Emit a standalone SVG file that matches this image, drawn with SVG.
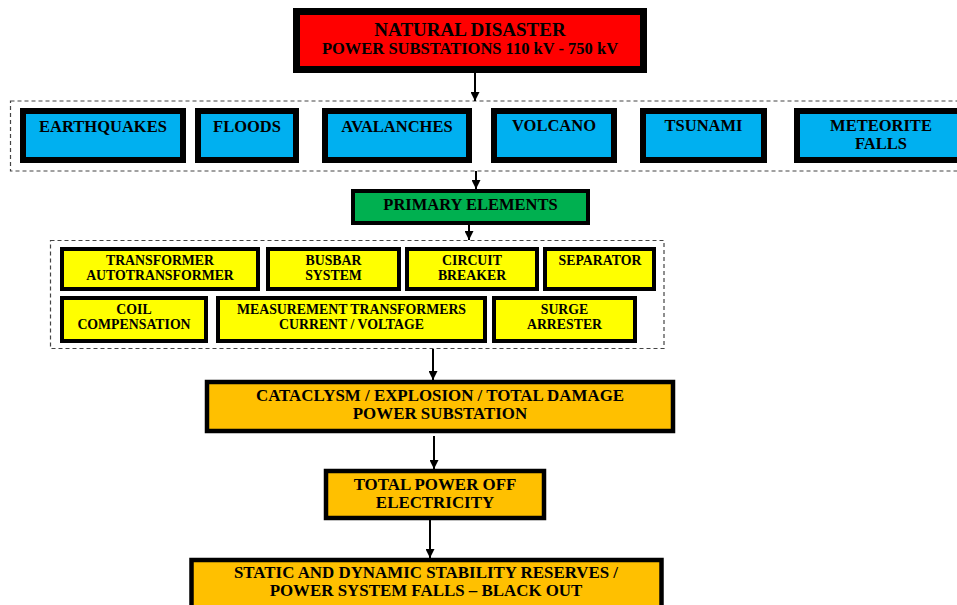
<svg xmlns="http://www.w3.org/2000/svg" width="957" height="605" viewBox="0 0 957 605">
<style>
text{font-family:"Liberation Serif","Times New Roman",serif;font-weight:bold;fill:#000;text-anchor:middle}
.t16{font-size:16.5px}
.t17{font-size:16.9px}
.t13{font-size:13.8px}
.t19{font-size:19px}
.red{fill:#FF0000;stroke:#000;stroke-width:7}
.blue{fill:#00B0F0;stroke:#000;stroke-width:6}
.green{fill:#00B050;stroke:#000;stroke-width:4}
.yel{fill:#FFFF00;stroke:#000;stroke-width:4}
.org{fill:#FFC000;stroke:#000;stroke-width:4.5}
.dash{fill:none;stroke:#444;stroke-width:1.2;stroke-dasharray:4 3}
.conn{stroke:#000;stroke-width:2;fill:none;marker-end:url(#arr)}
</style>
<defs>
<marker id="arr" viewBox="0 0 10 10" refX="10" refY="5" markerWidth="4.5" markerHeight="4.5" markerUnits="strokeWidth" orient="auto">
<path d="M0,0 L10,5 L0,10 z" fill="#000"/>
</marker>
</defs>
<rect width="957" height="605" fill="#fff"/>

<g id="group-disasters"><rect class="dash" x="10.5" y="101" width="960" height="70"/></g>
<g id="group-elements"><rect class="dash" x="50.5" y="240.5" width="613.5" height="108"/></g>

<g id="connectors">
<line class="conn" x1="475" y1="73" x2="475" y2="101"/>
<line class="conn" x1="476" y1="171" x2="476" y2="189"/>
<line class="conn" x1="469" y1="225" x2="469" y2="240"/>
<line class="conn" x1="433" y1="349" x2="433" y2="380"/>
<line class="conn" x1="434" y1="436" x2="434" y2="469"/>
<line class="conn" x1="430" y1="520" x2="430" y2="558"/>
</g>

<g id="natural-disaster">
<rect class="red" x="296.5" y="11.5" width="347" height="58"/>
<text class="t19" x="470" y="36">NATURAL DISASTER</text>
<text class="t16" x="470" y="54">POWER SUBSTATIONS 110 kV - 750 kV</text>
</g>

<g id="earthquakes"><rect class="blue" x="23" y="111" width="160" height="49"/><text class="t16" x="103" y="132">EARTHQUAKES</text></g>
<g id="floods"><rect class="blue" x="198" y="111" width="98" height="49"/><text class="t16" x="247" y="132">FLOODS</text></g>
<g id="avalanches"><rect class="blue" x="325" y="111" width="144" height="49"/><text class="t16" x="397" y="132">AVALANCHES</text></g>
<g id="volcano"><rect class="blue" x="494" y="111" width="120" height="49"/><text class="t16" x="554" y="131">VOLCANO</text></g>
<g id="tsunami"><rect class="blue" x="643" y="111" width="121" height="49"/><text class="t16" x="703.5" y="131">TSUNAMI</text></g>
<g id="meteorite"><rect class="blue" x="797" y="111" width="170" height="49"/><text class="t16" x="881" y="131">METEORITE</text><text class="t16" x="881" y="149">FALLS</text></g>

<g id="primary-elements"><rect class="green" x="353" y="191" width="235" height="32"/><text class="t16" x="470.5" y="210">PRIMARY ELEMENTS</text></g>

<g id="transformer"><rect class="yel" x="62" y="249" width="196" height="40"/><text class="t13" x="160" y="265">TRANSFORMER</text><text class="t13" x="160" y="280">AUTOTRANSFORMER</text></g>
<g id="busbar"><rect class="yel" x="268" y="249" width="131" height="40"/><text class="t13" x="333.5" y="265">BUSBAR</text><text class="t13" x="333.5" y="280">SYSTEM</text></g>
<g id="circuit-breaker"><rect class="yel" x="407" y="249" width="130" height="40"/><text class="t13" x="472" y="265">CIRCUIT</text><text class="t13" x="472" y="280">BREAKER</text></g>
<g id="separator"><rect class="yel" x="545" y="249" width="109" height="40"/><text class="t13" x="600" y="265">SEPARATOR</text></g>
<g id="coil"><rect class="yel" x="62" y="298" width="144" height="43"/><text class="t13" x="134" y="314">COIL</text><text class="t13" x="134" y="329">COMPENSATION</text></g>
<g id="measurement"><rect class="yel" x="218" y="298" width="267" height="43"/><text class="t13" x="351.5" y="314">MEASUREMENT TRANSFORMERS</text><text class="t13" x="351.5" y="329">CURRENT / VOLTAGE</text></g>
<g id="surge"><rect class="yel" x="494" y="298" width="141" height="43"/><text class="t13" x="564.5" y="314">SURGE</text><text class="t13" x="564.5" y="329">ARRESTER</text></g>

<g id="cataclysm"><rect class="org" x="207" y="382" width="466" height="49"/><text class="t17" x="440" y="401">CATACLYSM / EXPLOSION / TOTAL DAMAGE</text><text class="t17" x="440" y="419">POWER SUBSTATION</text></g>
<g id="power-off"><rect class="org" x="326" y="471" width="218" height="47"/><text class="t17" x="435" y="489.5">TOTAL POWER OFF</text><text class="t17" x="435" y="507.5">ELECTRICITY</text></g>
<g id="blackout"><rect class="org" x="191.5" y="560" width="470" height="60"/><text class="t17" x="426" y="578">STATIC AND DYNAMIC STABILITY RESERVES /</text><text class="t17" x="426" y="596">POWER SYSTEM FALLS – BLACK OUT</text></g>
</svg>
